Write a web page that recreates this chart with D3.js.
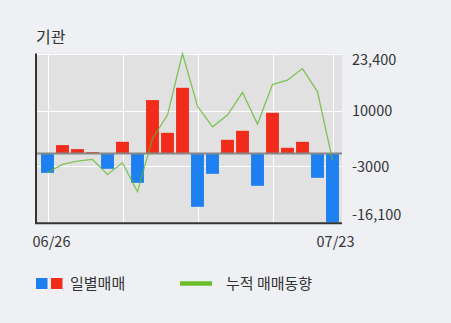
<!DOCTYPE html>
<html>
<head>
<meta charset="utf-8">
<script src="https://cdn.jsdelivr.net/npm/d3@7"></script>
<style>
  body { margin: 0; background: #eef0f4; }
  svg { display: block; font-family: "Noto Sans CJK KR", "Noto Sans", sans-serif; }
</style>
</head>
<body>
<svg width="451" height="323"></svg>
<script>
const dates = ["06/26", "06/27", "06/28", "06/29", "07/02", "07/03", "07/04", "07/05", "07/06", "07/09",
  "07/10", "07/11", "07/12", "07/13", "07/16", "07/17", "07/18", "07/19", "07/20", "07/23"];
// daily net buying (bars)
const daily = [-4490, 1990, 1050, 350, -3550, 2760, -6830, 12510, 4860, 15380,
  -12440, -4720, 3230, 5330, -7530, 9540, 1360, 2760, -5660, -16100];
// cumulative (line)
const cumulative = [-4400, -2520, -1750, -1360, -4860, -2150, -8930, 3550, 9000, 23400,
  11100, 6270, 9000, 14300, 6900, 16130, 17180, 19870, 14450, -1520];
const yTicks = [23400, 10000, -3000, -16100];
const yTickLabels = ["23,400", "10000", "-3000", "-16,100"];
const xLabelIdx = [0, 19];
const gridIdx = [0, 5, 10, 15, 19];

const svg = d3.select("svg");
const plotLeft = 36, plotRight = 342, plotTop = 53.5, plotBottom = 222.5;

const x = d3.scaleBand().domain(dates).range([40, 340]).paddingInner(0.14).paddingOuter(0.07);
const y = d3.scaleLinear().domain([-16100, 23400]).range([plotBottom, plotTop]);
const cx = d => x(d) + x.bandwidth() / 2;

// plot background
svg.append("rect")
  .attr("x", plotLeft).attr("y", plotTop)
  .attr("width", plotRight - plotLeft).attr("height", plotBottom - plotTop)
  .attr("fill", "#e1e1e1");

// grid
svg.append("g")
  .attr("stroke", "#fff")
  .attr("stroke-width", 1)
  .selectAll("line")
  .data(yTicks)
  .enter().append("line")
  .attr("x1", plotLeft).attr("x2", plotRight)
  .attr("y1", d => Math.round(y(d)) + 0.5)
  .attr("y2", d => Math.round(y(d)) + 0.5);

svg.append("g")
  .attr("stroke", "#fff")
  .attr("stroke-width", 1)
  .selectAll("line")
  .data(gridIdx)
  .enter().append("line")
  .attr("x1", i => Math.round(cx(dates[i])) + 0.5)
  .attr("x2", i => Math.round(cx(dates[i])) + 0.5)
  .attr("y1", plotTop).attr("y2", plotBottom);

// bars
svg.append("g")
  .selectAll("rect")
  .data(daily)
  .enter().append("rect")
  .attr("x", (d, i) => x(dates[i]))
  .attr("width", x.bandwidth())
  .attr("y", d => y(Math.max(0, d)))
  .attr("height", d => Math.abs(y(d) - y(0)))
  .attr("fill", d => d < 0 ? "#1e7ff0" : "#f22c1a");

// zero line
svg.append("line")
  .attr("x1", plotLeft).attr("x2", plotRight)
  .attr("y1", y(0)).attr("y2", y(0))
  .attr("stroke", "#888")
  .attr("stroke-width", 2);

// cumulative line
const line = d3.line()
  .x((d, i) => cx(dates[i]))
  .y(d => y(d));

svg.append("path")
  .datum(cumulative)
  .attr("fill", "none")
  .attr("stroke", "#5cb82a")
  .attr("stroke-opacity", 0.75)
  .attr("stroke-width", 1.3)
  .attr("d", line);

// axes frame
svg.append("line")
  .attr("x1", plotLeft).attr("x2", plotLeft)
  .attr("y1", plotTop).attr("y2", plotBottom + 1.5)
  .attr("stroke", "#333").attr("stroke-width", 2);
svg.append("line")
  .attr("x1", plotLeft - 1).attr("x2", plotRight)
  .attr("y1", plotBottom + 0.8).attr("y2", plotBottom + 0.8)
  .attr("stroke", "#333").attr("stroke-width", 2);

// right labels (ends nudged inside)
const labelY = [y(yTicks[0]) + 6, y(yTicks[1]), y(yTicks[2]), y(yTicks[3]) - 8];
svg.append("g")
  .selectAll("text")
  .data(yTickLabels)
  .enter().append("text")
  .attr("x", 352)
  .attr("y", (d, i) => labelY[i])
  .attr("dy", "0.35em")
  .attr("font-size", 14.5)
  .attr("fill", "#333")
  .text(d => d);

// x labels
svg.append("g")
  .selectAll("text")
  .data(xLabelIdx)
  .enter().append("text")
  .attr("x", i => cx(dates[i]) + (i === 0 ? 4 : 3))
  .attr("y", 242)
  .attr("dy", "0.35em")
  .attr("text-anchor", "middle")
  .attr("font-size", 14.5)
  .attr("fill", "#333")
  .text(i => dates[i]);

// title
svg.append("text")
  .attr("x", 36).attr("y", 37)
  .attr("dy", "0.35em")
  .attr("font-size", 16)
  .attr("fill", "#333")
  .text("기관");

// legend
const legend = svg.append("g");
legend.append("rect").attr("x", 36).attr("y", 278).attr("width", 11.5).attr("height", 11).attr("fill", "#1e7ff0");
legend.append("rect").attr("x", 51).attr("y", 278).attr("width", 11.5).attr("height", 11).attr("fill", "#f22c1a");
legend.append("text").attr("x", 70).attr("y", 283.5).attr("dy", "0.35em")
  .attr("font-size", 15).attr("fill", "#333").text("일별매매");
legend.append("line").attr("x1", 180).attr("x2", 212).attr("y1", 283.5).attr("y2", 283.5)
  .attr("stroke", "#6cbf2a").attr("stroke-width", 4.5);
legend.append("text").attr("x", 226).attr("y", 283.5).attr("dy", "0.35em")
  .attr("font-size", 15).attr("fill", "#333").text("누적 매매동향");
</script>
</body>
</html>
